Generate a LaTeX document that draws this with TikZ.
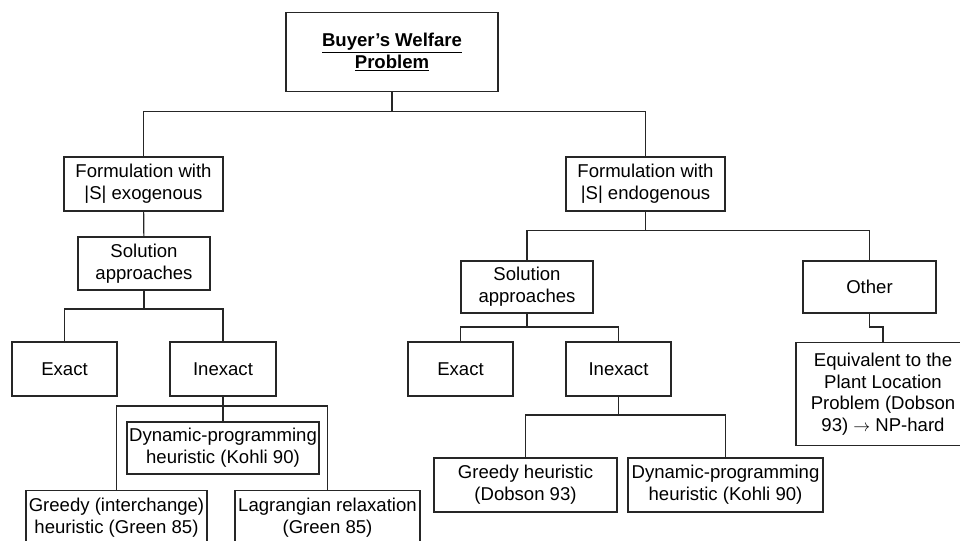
\documentclass[tikz,border=0pt]{standalone}
\usepackage{fontspec}
\setmainfont{Liberation Sans}
\usetikzlibrary{calc}

\tikzset{
	box/.style={draw, line width=0.8pt, color=black!85, text=black, align=center, inner sep=0pt,
		minimum height=53*0.025cm, font=\fontsize{13.2}{15.4}\selectfont},
	boxw/.style={minimum width=#1*0.025cm},
	boxh/.style={minimum height=#1*0.025cm},
	link/.style={line width=0.8pt, color=black!85}
}

\begin{document}
\begin{tikzpicture}[x=0.025cm, y=-0.025cm]
			%%%%% START %%%%%
			\useasboundingbox (0, 0) rectangle (960, 540);
			
			\node[box, boxw=212, boxh=79] (title) at (392, 52.2) {\textbf{\underline{Buyer’s Welfare}}\\\textbf{\underline{Problem}}};
			
			\node[box, boxw=159, boxh=54] (formL) at (143.5, 184) {Formulation with\\|S| exogenous};
			\node[box, boxw=159, boxh=54] (formR) at (645.5, 184) {Formulation with\\|S| endogenous};
			
			\node[box, boxw=132] (solL) at (144, 263.5) {Solution\\approaches};
			\node[box, boxw=105, boxh=54] (exL) at (64.5, 369) {Exact};
			\node[box, boxw=106, boxh=54] (inL) at (223, 369) {Inexact};
			\node[box, boxw=192, boxh=52] (dpL) at (223, 448) {Dynamic-programming\\heuristic (Kohli 90)};
			\node[box, boxw=181, boxh=54] (grL) at (116.5, 517.5) {Greedy (interchange)\\heuristic (Green 85)};
			\node[box, boxw=185, boxh=54] (lgL) at (327.5, 517.5) {Lagrangian relaxation\\(Green 85)};
			
			\node[box, boxw=132, boxh=52] (solR) at (527, 287) {Solution\\approaches};
			\node[box, boxw=133, boxh=52] (oth) at (869.5, 287) {Other};
			\node[box, boxw=105, boxh=54] (exR) at (460.5, 369) {Exact};
			\node[box, boxw=105, boxh=54] (inR) at (618.5, 369) {Inexact};
			\node[box, boxw=183, boxh=54] (grR) at (525.5, 485) {Greedy heuristic\\(Dobson 93)};
			\node[box, boxw=195, boxh=54] (dpR) at (725.5, 485) {Dynamic-programming\\heuristic (Kohli 90)};
			\node[box, boxw=174, boxh=103] (eqv) at (883, 394.3) {Equivalent to the\\Plant Location\\Problem (Dobson\\93) $\rightarrow$ NP-hard};
			
			\coordinate (j0) at (392, 111.7);
			\coordinate (j1) at (144, 309);
			\coordinate (j2) at (223, 406);
			\coordinate (j3) at (645.5, 230.5);
			\coordinate (j4) at (527, 327);
			\coordinate (j5) at (618.5, 415);
			\coordinate (j6) at (869.5, 327);
			
			\draw[link] (title) -- (j0) -| (formL);
			\draw[link] (j0) -| (formR);
			\draw[link] (formL) -- (solL);
			\draw[link] (solL) -- (j1) -| (exL);
			\draw[link] (j1) -| (inL);
			\draw[link] (inL) -- (dpL);
			\draw[link] (j2) -| (grL);
			\draw[link] (j2) -| (lgL);
			
			\draw[link] (formR) -- (j3) -| (solR);
			\draw[link] (j3) -| (oth);
			\draw[link] (solR) -- (j4) -| (exR);
			\draw[link] (j4) -| (inR);
			\draw[link] (inR) -- (j5) -| (grR);
			\draw[link] (j5) -| (dpR);
			\draw[link] (oth) -- (j6) -| (eqv);
			
			%%%%% END %%%%%
\end{tikzpicture}
\end{document}
